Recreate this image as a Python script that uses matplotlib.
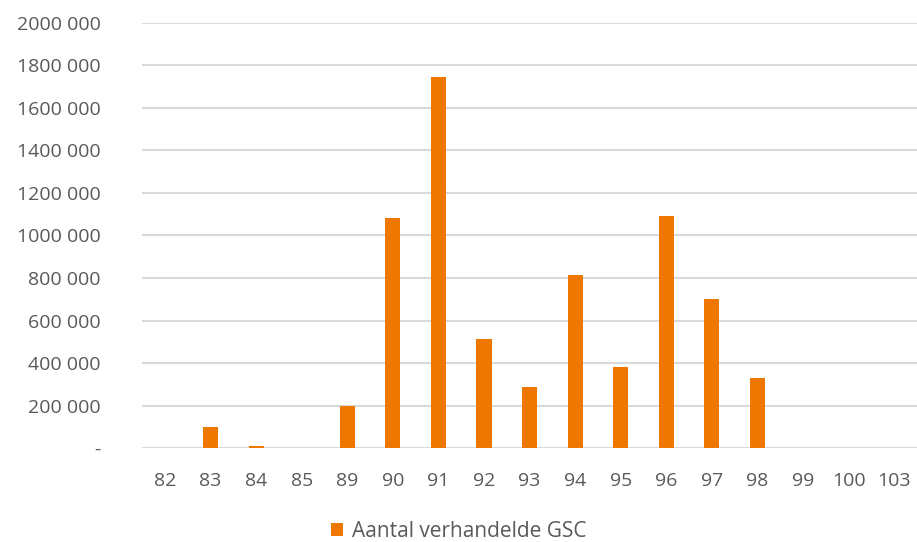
#Traded GSC per year, bar chart
import matplotlib.pyplot as plt
from matplotlib.ticker import FuncFormatter

years = ['82', '83', '84', '85', '89', '90', '91', '92', '93', '94', '95', '96', '97', '98', '99', '100', '103']
traded = [0, 100000, 9000, 0, 200000, 1080000, 1744000, 514000, 290000, 814000, 380000, 1092000, 700000, 332000, 0, 0, 0]

BAR_COLOR = '#EE7700'
TEXT_COLOR = '#595959'
GRID_COLOR = '#D9D9D9'

plt.rcParams['font.family'] = ['Open Sans', 'DejaVu Sans']


def fmt_y(v, pos):
    if v == 0:
        return '-'
    return f"{int(round(v / 1000))} 000"


fig = plt.figure(figsize=(9.17, 5.42), dpi=100)
ax = fig.add_axes([0.155, 0.173, 0.845, 0.785])

x = range(len(years))
ax.bar(x, traded, width=0.33, color=BAR_COLOR, label='Aantal verhandelde GSC', zorder=3)

ax.set_ylim(0, 2000000)
ax.set_yticks(range(0, 2000001, 200000))
ax.yaxis.set_major_formatter(FuncFormatter(fmt_y))
ax.set_xticks(list(x))
ax.set_xticklabels(years)
ax.set_xlim(-0.5, len(years) - 0.5)

ax.grid(axis='y', color=GRID_COLOR, linewidth=1.5, zorder=0)
for s in ax.spines.values():
    s.set_visible(False)
ax.tick_params(axis='both', length=0, labelsize=14, colors=TEXT_COLOR)
ax.tick_params(axis='x', pad=17)
ax.tick_params(axis='y', pad=30)

fig.legend(loc='lower center', bbox_to_anchor=(0.5, -0.035), frameon=False,
           fontsize=15, labelcolor=TEXT_COLOR, handlelength=0.6, handleheight=0.6,
           handletextpad=0.4)

fig.savefig('out.png', dpi=100)
